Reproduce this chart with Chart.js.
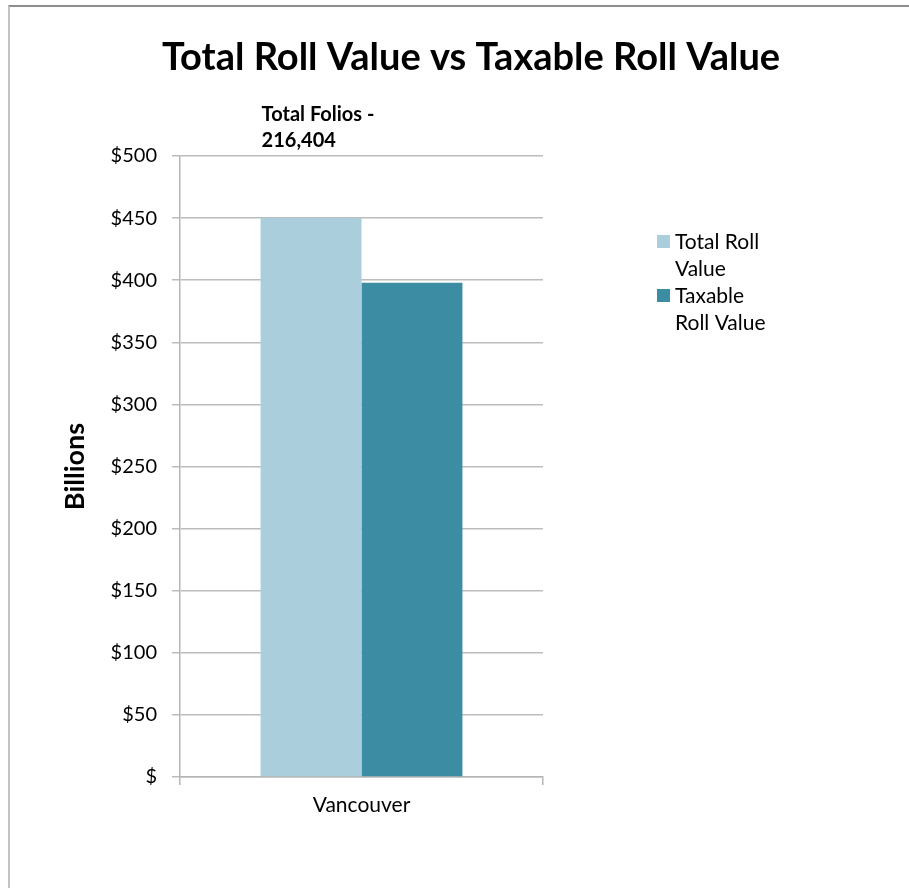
<!DOCTYPE html>
<html><head><meta charset="utf-8">
<script src="https://cdn.jsdelivr.net/npm/chart.js@4.4.0/dist/chart.umd.min.js"></script>
<style>
html,body{margin:0;padding:0;background:#fff;}
#wrap{position:relative;width:909px;height:888px;overflow:hidden;}
#frame{position:absolute;left:8px;top:5px;width:1200px;height:1200px;border-top:2px solid #8f8f8f;border-left:2px solid #c3c3c3;pointer-events:none;}
canvas{position:absolute;left:0;top:0;}
</style></head><body>
<div id="wrap"><canvas id="c" width="909" height="888"></canvas><div id="frame"></div></div>
<script>
const categories = ['Vancouver'];
const seriesNames = ['Total Roll Value', 'Taxable Roll Value'];
const totalRollValue = [450];
const taxableRollValue = [398];
const yTicks = [0, 50, 100, 150, 200, 250, 300, 350, 400, 450, 500];
const annotationLines = ['Total Folios -', '216,404'];
const titleText = 'Total Roll Value vs Taxable Roll Value';
const yAxisTitle = 'Billions';

const FONT = 'Lato';

function wrapText(ctx, text, maxW) {
  const words = text.split(' ');
  const lines = [];
  let cur = '';
  words.forEach(w => {
    const test = cur ? cur + ' ' + w : w;
    if (cur && ctx.measureText(test).width > maxW) { lines.push(cur); cur = w; }
    else cur = test;
  });
  if (cur) lines.push(cur);
  return lines;
}

const extras = {
  id: 'extras',
  afterDraw(chart) {
    const ctx = chart.ctx, area = chart.chartArea, y = chart.scales.y;
    const bar = chart.getDatasetMeta(0).data[0];
    const left = bar.x - bar.width / 2;
    const top = y.getPixelForValue(yTicks[yTicks.length - 1]);
    ctx.save();
    ctx.fillStyle = '#000';
    ctx.textBaseline = 'middle';
    ctx.textAlign = 'left';
    ctx.font = 'bold 20px ' + FONT;
    annotationLines.forEach((t, i) => ctx.fillText(t, left + 1, top - 41 + i * 26));
    ctx.font = '21px ' + FONT;
    let ly = area.top + 86;
    const lx = area.right + 114;
    chart.data.datasets.forEach(ds => {
      const lines = wrapText(ctx, ds.label, 100);
      ctx.fillStyle = ds.backgroundColor;
      ctx.fillRect(lx, ly - 7, 13, 13);
      ctx.fillStyle = '#000';
      lines.forEach((ln, i) => ctx.fillText(ln, lx + 18, ly + i * 27));
      ly += lines.length * 27;
    });
    ctx.restore();
  }
};

new Chart(document.getElementById('c'), {
  type: 'bar',
  data: {
    labels: categories,
    datasets: [
      { label: seriesNames[0], data: totalRollValue, backgroundColor: '#AACEDC' },
      { label: seriesNames[1], data: taxableRollValue, backgroundColor: '#3C8CA3' }
    ]
  },
  options: {
    responsive: false,
    animation: false,
    devicePixelRatio: 1,
    categoryPercentage: 0.556,
    barPercentage: 1,
    layout: { padding: { left: 33, right: 0, top: 0, bottom: 0 } },
    plugins: {
      legend: { display: false },
      tooltip: { enabled: false },
      title: {
        display: true, text: titleText, color: '#000',
        font: { family: FONT, size: 38, weight: 'bold' },
        padding: { top: 35, bottom: 75.4 }
      }
    },
    scales: {
      x: {
        afterFit(s) { s.height = 111; },
        grid: { offset: true, drawOnChartArea: false, drawTicks: true, tickLength: 8, color: '#b5b5b5', lineWidth: 1.5 },
        border: { display: true, color: '#b5b5b5', width: 1.5 },
        ticks: { color: '#000', font: { family: FONT, size: 21 }, padding: 8 }
      },
      y: {
        min: 0, max: 500,
        afterBuildTicks(s) { s.ticks = yTicks.map(v => ({ value: v })); },
        afterFit(s) { s.width = 147; },
        grid: { color: '#bcbcbc', lineWidth: 1.5, drawTicks: true, tickLength: 8 },
        border: { display: true, color: '#b5b5b5', width: 1.5 },
        ticks: {
          color: '#000', font: { family: FONT, size: 20 }, padding: 15,
          callback: v => v === 0 ? '$' : '$' + v
        },
        title: {
          display: true, text: yAxisTitle, color: '#000',
          font: { family: FONT, size: 27, weight: 'bold' },
          padding: { top: 26, bottom: 0 }
        }
      },
      yR: {
        type: 'linear', position: 'right', display: true,
        afterFit(s) { s.width = 366; },
        grid: { display: false },
        border: { display: false },
        ticks: { display: false }
      }
    }
  },
  plugins: [extras]
});
</script>
</body></html>
